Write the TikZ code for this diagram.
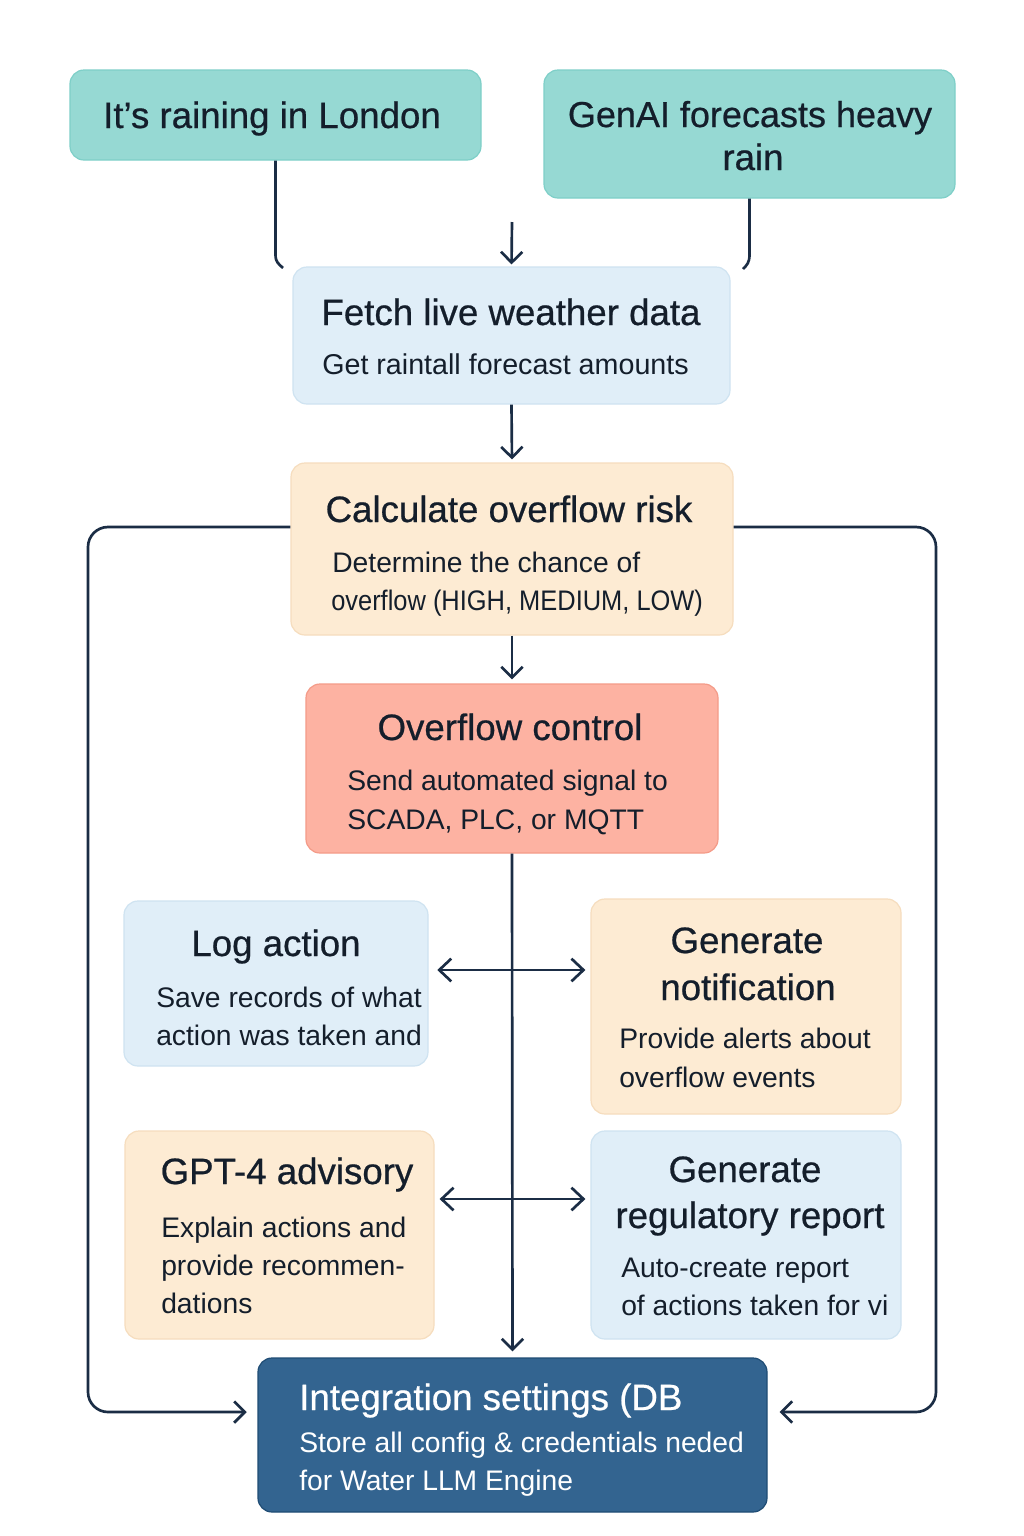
\documentclass[tikz,border=0pt]{standalone}
\usepackage{fontspec}
\setmainfont{Liberation Sans}
\newfontfamily\ttlfont[FakeBold=0.6]{Liberation Sans}
\newfontfamily\narrowfont[FakeStretch=0.9]{Liberation Sans}
\usetikzlibrary{arrows.meta,calc}
\definecolor{ink}{HTML}{141E2B}
\definecolor{wire}{HTML}{1B2D45}
\definecolor{tealF}{HTML}{96D9D3}
\definecolor{tealD}{HTML}{7ECFC8}
\definecolor{blueF}{HTML}{E0EEF8}
\definecolor{blueD}{HTML}{CFE3F1}
\definecolor{peachF}{HTML}{FDEBD3}
\definecolor{peachD}{HTML}{F6DDBE}
\definecolor{salF}{HTML}{FDB2A2}
\definecolor{salD}{HTML}{F49B88}
\definecolor{darkF}{HTML}{336490}
\definecolor{darkD}{HTML}{1F4C74}
\tikzset{
  box/.style={rectangle, rounded corners=10.5pt, line width=0.9pt, inner sep=0pt},
  tealbox/.style={box, fill=tealF, draw=tealD},
  bluebox/.style={box, fill=blueF, draw=blueD},
  peachbox/.style={box, fill=peachF, draw=peachD},
  salbox/.style={box, fill=salF, draw=salD},
  darkbox/.style={box, fill=darkF, draw=darkD},
  ttl/.style={inner sep=0pt, anchor=base, text=ink, font=\ttlfont\fontsize{27.5}{33}\selectfont},
  sub/.style={inner sep=0pt, anchor=base west, text=ink, font=\fontsize{21.2}{26}\selectfont},
  wirel/.style={draw=wire, line width=2pt},
  arr/.style={wirel, -{Straight Barb[length=8pt,width=16pt,line width=2pt]}},
  darr/.style={wirel, {Straight Barb[length=9pt,width=17pt,line width=2pt]}-{Straight Barb[length=9pt,width=17pt,line width=2pt]}},
}
\begin{document}
\begin{tikzpicture}[x=0.75pt,y=-0.75pt]
\useasboundingbox (0,0) rectangle (1024,1536);
\fill[white] (0,0) rectangle (1024,1536);

% boxes
\node[tealbox, minimum width=308.25pt, minimum height=67.5pt] (A) at (275.5,115) {};
\node[tealbox, minimum width=308.25pt, minimum height=96pt] (B) at (749.5,134) {};
\node[bluebox, minimum width=327.75pt, minimum height=102.75pt] (F) at (511.5,335.5) {};
\node[peachbox, minimum width=331.5pt, minimum height=129pt] (C) at (512,549) {};
\node[salbox, minimum width=309pt, minimum height=126.75pt] (O) at (512,768.5) {};
\node[bluebox, minimum width=228pt, minimum height=123.75pt] (L) at (276,983.5) {};
\node[peachbox, minimum width=232.5pt, minimum height=161.25pt] (N) at (746,1006.5) {};
\node[peachbox, minimum width=231.75pt, minimum height=156pt] (G) at (279.5,1235) {};
\node[bluebox, minimum width=232.5pt, minimum height=156pt] (R) at (746,1235) {};
\node[darkbox, minimum width=381.75pt, minimum height=115.5pt] (I) at (512.5,1435) {};

% texts
\node[ttl] (At) at (272,128) {It’s raining in London};
\node[ttl, font=\ttlfont\fontsize{27}{33}\selectfont] (Bt1) at (750,127) {GenAI forecasts heavy};
\node[ttl] (Bt2) at (753,170) {rain};
\node[ttl] (Ft) at (511,325) {Fetch live weather data};
\node[sub, font=\fontsize{21.5}{26}\selectfont] (Fs) at (322,374) {Get raintall forecast amounts};
\node[ttl] (Ct) at (509,522) {Calculate overflow risk};
\node[sub] (Cs1) at (332,572) {Determine the chance of};
\node[sub, font=\narrowfont\fontsize{21.2}{26}\selectfont] (Cs2) at (331,610) {overflow (HIGH, MEDIUM, LOW)};
\node[ttl] (Ot) at (510,740) {Overflow control};
\node[sub] (Os1) at (347,790) {Send automated signal to};
\node[sub] (Os2) at (347,829) {SCADA, PLC, or MQTT};
\node[ttl] (Lt) at (276,956) {Log action};
\node[sub] (Ls1) at (156,1007) {Save records of what};
\node[sub] (Ls2) at (156,1045) {action was taken and};
\node[ttl] (Nt1) at (747,953) {Generate};
\node[ttl] (Nt2) at (748,1000) {notification};
\node[sub] (Ns1) at (619,1048) {Provide alerts about};
\node[sub] (Ns2) at (619,1087) {overflow events};
\node[ttl] (Gt) at (287,1184) {GPT-4 advisory};
\node[sub] (Gs1) at (161,1237) {Explain actions and};
\node[sub] (Gs2) at (161,1275) {provide recommen-};
\node[sub] (Gs3) at (161,1313) {dations};
\node[ttl] (Rt1) at (745,1182) {Generate};
\node[ttl] (Rt2) at (750,1228) {regulatory report};
\node[sub] (Rs1) at (621,1277) {Auto-create report};
\node[sub] (Rs2) at (621,1315) {of actions taken for vi};
\node[ttl, anchor=base west, text=white] (It) at (299,1410) {Integration settings (DB};
\node[sub, text=white] (Is1) at (299,1452) {Store all config \& credentials neded};
\node[sub, text=white] (Is2) at (299,1490) {for Water LLM Engine};

% connectors
\coordinate (aEnd) at (283,268);
\coordinate (bEnd) at (743,269);
\coordinate (topIn) at (512,222);
\draw[wirel] (A.south) -- ++(0,94) .. controls +(0,8) and +(-4,-4) .. (aEnd);
\draw[wirel] (B.south) -- ++(0,56) .. controls +(0,8) and +(4,-4) .. (bEnd);
\draw[arr, shorten >=1.5pt] (topIn) -- (F.north);
\draw[arr, shorten >=2.25pt] (F.south) -- (C.north);
\draw[arr, shorten >=3pt] (C.south) -- (O.north);
\draw[arr, shorten >=4.5pt] (O.south) -- (I.north);

\coordinate (h1) at (512,970);
\coordinate (h2) at (512,1199);
\draw[darr, shorten <=6.5pt, shorten >=3.75pt] (L.east |- h1) -- (N.west |- h1);
\draw[darr, shorten <=3.75pt, shorten >=3.75pt] (G.east |- h2) -- (R.west |- h2);

\draw[arr, rounded corners=15pt, shorten >=8pt] ($(C.west)+(0,-22)$) -- (88,527) -- (88,1412) -- ($(I.west)+(0,-23)$);
\draw[arr, rounded corners=15pt, shorten >=9pt] ($(C.east)+(0,-22)$) -- (936,527) -- (936,1412) -- ($(I.east)+(0,-23)$);
\end{tikzpicture}
\end{document}
